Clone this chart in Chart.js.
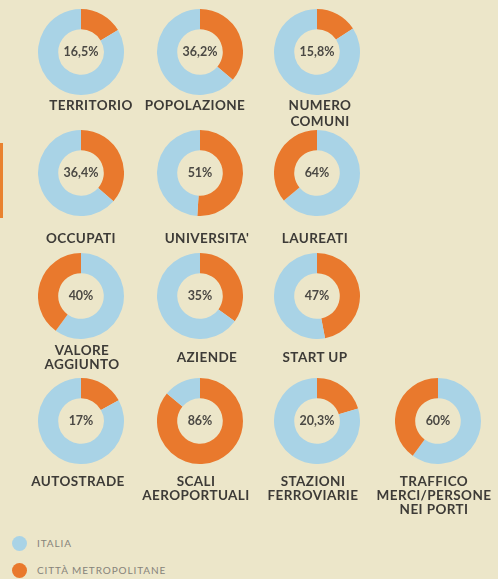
<!DOCTYPE html>
<html lang="it">
<head>
<meta charset="utf-8">
<title>Città metropolitane</title>
<script src="https://cdn.jsdelivr.net/npm/chart.js@4.4.1/dist/chart.umd.min.js"></script>
<style>
  html, body { margin: 0; padding: 0; }
  body {
    width: 498px; height: 579px; overflow: hidden; position: relative;
    background: #ece6c9;
    font-family: Lato, "Open Sans", sans-serif;
  }
  .ring { position: absolute; width: 86px; height: 86px; }
  .ring canvas { display: block; }
  .pct {
    position: absolute; width: 60px; text-align: center;
    font-weight: 700; font-size: 12.5px; color: #4b4944; line-height: 14px;
  }
  .name {
    position: absolute; width: 140px; text-align: center;
    font-weight: 700; font-size: 13.5px; color: #3d3b37; letter-spacing: 0.4px;
    white-space: nowrap;
  }
  .accent { position: absolute; left: 0; top: 143px; width: 3px; height: 75px; background: #e9822f; }
  .legend { position: absolute; left: 12px; }
  .legend .dot { position: absolute; width: 15px; height: 15px; border-radius: 50%; left: 0; top: 0; }
  .legend .txt {
    position: absolute; left: 25px; top: 2px; white-space: nowrap;
    font-size: 10px; color: #86837a; letter-spacing: 0.9px; line-height: 11px;
  }
</style>
</head>
<body>
<div class="accent"></div>

<script>
// Indicators: share of the metropolitan cities against the national total
const categories = [
  ['TERRITORIO'], ['POPOLAZIONE'], ['NUMERO', 'COMUNI'],
  ['OCCUPATI'], ["UNIVERSITA'"], ['LAUREATI'],
  ['VALORE', 'AGGIUNTO'], ['AZIENDE'], ['START UP'],
  ['AUTOSTRADE'], ['SCALI', 'AEROPORTUALI'], ['STAZIONI', 'FERROVIARIE'],
  ['TRAFFICO', 'MERCI/PERSONE', 'NEI PORTI']
];
const cittaMetropolitane = [16.5, 36.2, 15.8, 36.4, 51, 36, 40, 35, 47, 17, 86, 20.3, 40];
const italia             = [83.5, 63.8, 84.2, 63.6, 49, 64, 60, 65, 53, 83, 14, 79.7, 60];
// which series the figure in the middle of each ring refers to
const centreSeries = ['cm', 'cm', 'cm', 'cm', 'cm', 'it', 'cm', 'cm', 'cm', 'cm', 'cm', 'cm', 'it'];
const seriesNames = ['ITALIA', 'CITTÀ METROPOLITANE'];

const COLORS = { it: '#a9d3e6', cm: '#e9792d' };

// grid layout
const colX = [81, 200, 317, 438];
const rowY = [52, 173, 296, 421];
const cell = [[0,0],[0,1],[0,2],[1,0],[1,1],[1,2],[2,0],[2,1],[2,2],[3,0],[3,1],[3,2],[3,3]];
// orange arc drawn clockwise from the top, or counter-clockwise
const clockwise = [true, true, true, true, true, false, false, true, true, true, true, true, false];
// caption placement per row: centre of first line, line height
const captionRow = [{ y: 105, lh: 16.5 }, { y: 238, lh: 15 }, { y: 357, lh: 14, mid: true }, { y: 481, lh: 14 }];
const captionDx = [10, -5, 3, 0, 7, -2, 1, 7, -2, -3, -4, -4, -4];

function fmt(v) {
  return v.toLocaleString('it-IT', { maximumFractionDigits: 1 }) + '%';
}

categories.forEach((lines, i) => {
  const [r, c] = cell[i];
  const cx = colX[c], cy = rowY[r];

  const box = document.createElement('div');
  box.className = 'ring';
  box.style.left = (cx - 43) + 'px';
  box.style.top = (cy - 43) + 'px';
  const cv = document.createElement('canvas');
  cv.width = 86; cv.height = 86;
  box.appendChild(cv);
  document.body.appendChild(box);

  const cm = cittaMetropolitane[i], it = italia[i];
  const data = clockwise[i] ? [cm, it] : [it, cm];
  const colors = clockwise[i] ? [COLORS.cm, COLORS.it] : [COLORS.it, COLORS.cm];
  const labels = clockwise[i] ? [seriesNames[1], seriesNames[0]] : [seriesNames[0], seriesNames[1]];

  new Chart(cv, {
    type: 'doughnut',
    data: {
      labels: labels,
      datasets: [{ data: data, backgroundColor: colors, borderWidth: 0, hoverOffset: 0 }]
    },
    options: {
      responsive: false,
      animation: false,
      events: [],
      cutout: '53%',
      rotation: 0,
      layout: { padding: 0 },
      plugins: { legend: { display: false }, tooltip: { enabled: false } }
    }
  });

  const pct = document.createElement('div');
  pct.className = 'pct';
  pct.textContent = fmt(centreSeries[i] === 'cm' ? cm : it);
  pct.style.left = (cx - 30) + 'px';
  pct.style.top = (cy - 7) + 'px';
  document.body.appendChild(pct);

  const rowCfg = captionRow[r];
  const name = document.createElement('div');
  name.className = 'name';
  name.style.lineHeight = rowCfg.lh + 'px';
  let top = rowCfg.y - rowCfg.lh / 2;
  if (rowCfg.mid) top -= (lines.length - 1) * rowCfg.lh / 2;
  name.style.top = top + 'px';
  name.style.left = (cx + captionDx[i] - 70) + 'px';
  name.innerHTML = lines.map(s => s.replace(/&/g, '&amp;')).join('<br>');
  document.body.appendChild(name);
});

// legend
[{ key: 'it', y: 536, text: seriesNames[0] }, { key: 'cm', y: 563, text: seriesNames[1] }].forEach(item => {
  const lg = document.createElement('div');
  lg.className = 'legend';
  lg.style.top = item.y + 'px';
  lg.innerHTML = '<div class="dot" style="background:' + COLORS[item.key] + '"></div><div class="txt">' + item.text + '</div>';
  document.body.appendChild(lg);
});
</script>
</body>
</html>
